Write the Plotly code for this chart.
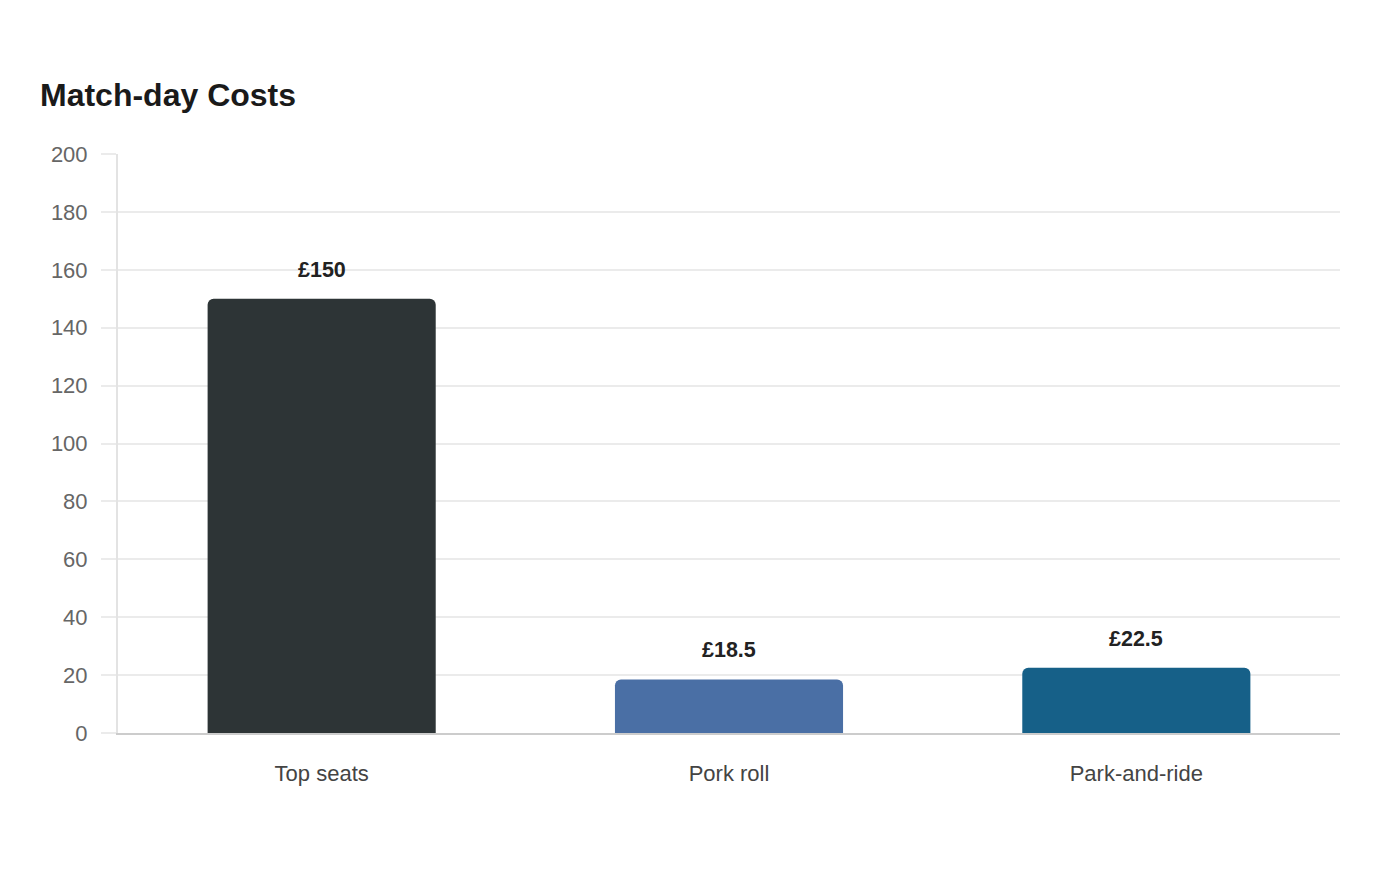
import plotly.graph_objects as go

# Dados do gráfico
categorias = ["Top seats", "Pork roll", "Park-and-ride"]
custos = [150, 18.5, 22.5]
rotulos = ["£150", "£18.5", "£22.5"]
cores = ["#2d3436", "#4a6fa5", "#166088"]
y_ticks = [0, 20, 40, 60, 80, 100, 120, 140, 160, 180, 200]

FONTE = "Liberation Sans, Arial, sans-serif"
GRID = "#ebebeb"

fig = go.Figure()

fig.add_trace(go.Bar(
    x=categorias,
    y=custos,
    marker=dict(color=cores, cornerradius=6, line=dict(width=0)),
    hoverinfo="skip",
    showlegend=False
))

# Rótulos de valor acima das barras
for cat, val, txt in zip(categorias, custos, rotulos):
    fig.add_annotation(
        x=cat, y=val, text=f"<b>{txt}</b>",
        showarrow=False, yanchor="middle", yshift=29,
        font=dict(family=FONTE, size=21.5, color="#222222")
    )

# A página tem margem de 8px, por isso tudo é deslocado
fig.update_layout(
    width=1400,
    height=880,
    paper_bgcolor="white",
    plot_bgcolor="white",
    bargap=0.44,
    margin=dict(l=110, r=68, t=146, b=155),
    title=dict(
        text="<b>Match-day Costs</b>",
        x=32 / 1400, xref="container", xanchor="left",
        y=1 - 87 / 880, yref="container", yanchor="middle",
        font=dict(family=FONTE, size=32, color="#1a1a1a")
    ),
    font=dict(family=FONTE)
)

fig.update_xaxes(
    showline=True,
    linecolor="#cccccc",
    linewidth=2,
    showgrid=False,
    ticks="outside",
    ticklen=0,
    tickcolor="white",
    ticklabelstandoff=20,
    tickfont=dict(family=FONTE, size=22, color="#444444")
)

fig.update_yaxes(
    range=[0, 200],
    tickvals=y_ticks,
    showgrid=True,
    gridcolor=GRID,
    gridwidth=2,
    zeroline=False,
    showline=True,
    linecolor="#e3e3e3",
    linewidth=2,
    ticks="outside",
    ticklen=15,
    tickwidth=2,
    tickcolor=GRID,
    ticklabelstandoff=9,
    tickfont=dict(family=FONTE, size=22, color="#666666")
)

fig.write_html("out.html")
